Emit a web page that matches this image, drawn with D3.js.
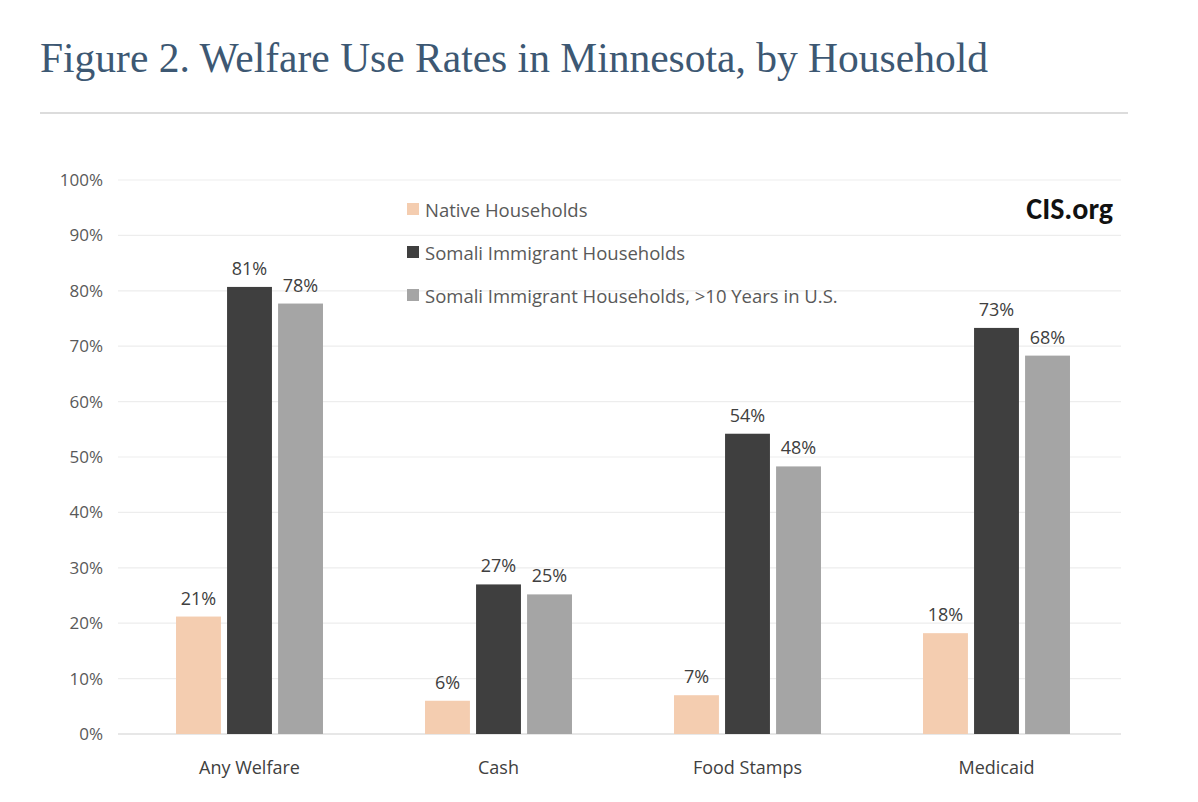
<!DOCTYPE html>
<html><head><meta charset="utf-8">
<script src="https://cdn.jsdelivr.net/npm/d3@7"></script>
<style>body{margin:0;background:#fff}</style>
</head><body><div id="chart-area"></div>
<script>
const categories = ["Any Welfare", "Cash", "Food Stamps", "Medicaid"]
const seriesNames = ["Native Households", "Somali Immigrant Households", "Somali Immigrant Households, >10 Years in U.S."]
const native = [21.2, 6, 7, 18.2]
const somali = [80.7, 27, 54.2, 73.3]
const somali10 = [77.7, 25.2, 48.3, 68.3]
const labels = [["21%","6%","7%","18%"],["81%","27%","54%","73%"],["78%","25%","48%","68%"]]
const yTicks = [0,10,20,30,40,50,60,70,80,90,100]
const colors = ["#f4cdb0", "#3f3f3f", "#a5a5a5"]

const WIDTH = 1198, HEIGHT = 802
const svg = d3.select("#chart-area").append("svg").attr("width", WIDTH).attr("height", HEIGHT)
const font = "'Open Sans', sans-serif"

svg.append("text").attr("x", 40).attr("y", 72)
  .attr("font-family", "'Liberation Serif', 'Times New Roman', serif").attr("font-size", 41.5)
  .attr("fill", "#3d5873").text("Figure 2. Welfare Use Rates in Minnesota, by Household")
svg.append("line").attr("x1", 40).attr("x2", 1128).attr("y1", 113).attr("y2", 113)
  .attr("stroke", "#dcdcdc").attr("stroke-width", 2)

const x = d3.scaleBand().domain(categories).range([125, 1121])
const y = d3.scaleLinear().domain([0, 100]).range([734, 180])

yTicks.forEach(t => {
  svg.append("line").attr("x1", 118).attr("x2", 1121).attr("y1", y(t)).attr("y2", y(t))
    .attr("stroke", t === 0 ? "#d0d0d0" : "#ededed").attr("stroke-width", 1.2)
  svg.append("text").attr("x", 103).attr("y", y(t) + 6).attr("text-anchor", "end")
    .attr("font-family", font).attr("font-size", 17).attr("fill", "#595959").text(t + "%")
})

const series = [native, somali, somali10]
const xs = d3.scaleBand().domain([0,1,2]).range([0, x.bandwidth()]).paddingInner(0.12).paddingOuter(1.0)
series.forEach((vals, si) => {
  svg.append("g").selectAll("rect").data(vals).enter().append("rect")
    .attr("x", (d, i) => x(categories[i]) + xs(si))
    .attr("y", d => y(d)).attr("width", xs.bandwidth()).attr("height", d => y(0) - y(d))
    .attr("fill", colors[si])
  svg.append("g").selectAll("text").data(vals).enter().append("text")
    .attr("x", (d, i) => x(categories[i]) + xs(si) + xs.bandwidth() / 2)
    .attr("y", d => y(d) - 12).attr("text-anchor", "middle")
    .attr("font-family", font).attr("font-size", 18).attr("fill", "#404040")
    .text((d, i) => labels[si][i])
})

categories.forEach(c => {
  svg.append("text").attr("x", x(c) + x.bandwidth() / 2).attr("y", 774).attr("text-anchor", "middle")
    .attr("font-family", font).attr("font-size", 18).attr("fill", "#404040").text(c)
})

seriesNames.forEach((n, i) => {
  const ly = 211 + i * 43
  svg.append("rect").attr("x", 407).attr("y", ly - 8).attr("width", 12).attr("height", 12).attr("fill", colors[i])
  svg.append("text").attr("x", 425).attr("y", ly + 6).attr("font-family", font).attr("font-size", 18.5)
    .attr("fill", "#595959").text(n)
})

svg.append("text").attr("x", 1113).attr("y", 219).attr("text-anchor", "end")
  .attr("font-family", "Carlito, Calibri, sans-serif").attr("font-size", 30).attr("font-weight", "bold").attr("fill", "#111").text("CIS.org")
</script></body></html>
